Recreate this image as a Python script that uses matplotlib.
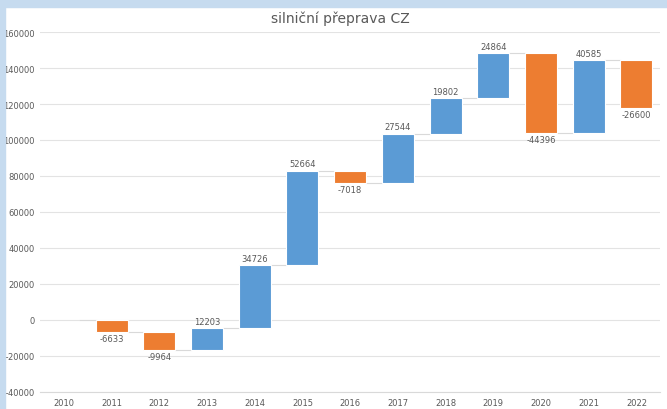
import matplotlib.pyplot as plt
import numpy as np
from matplotlib.patches import Rectangle

years = ['2010', '2011', '2012', '2013', '2014', '2015', '2016',
         '2017', '2018', '2019', '2020', '2021', '2022']
changes = [0, -6633, -9964, 12203, 34726, 52664, -7018,
           27544, 19802, 24864, -44396, 40585, -26600]

BLUE = '#5b9bd5'
ORANGE = '#ed7d31'
GREY = '#595959'

ends = np.cumsum(changes)
starts = ends - np.array(changes)

fig = plt.figure(figsize=(6.67, 4.10), dpi=100)
fig.patch.set_facecolor('white')
# light blue frame like the screenshot
fig.patches.append(Rectangle((0, 0.98), 1, 0.02, transform=fig.transFigure,
                             color='#c6dbef', zorder=0))
fig.patches.append(Rectangle((0, 0), 0.008, 1, transform=fig.transFigure,
                             color='#c6dbef', zorder=0))

ax = fig.add_axes([0.06, 0.0415, 0.93, 0.878])
x = np.arange(len(years))
w = 0.67

for i, c in enumerate(changes):
    if c == 0:
        continue
    col = BLUE if c > 0 else ORANGE
    ax.bar(x[i], c, bottom=starts[i], width=w, color=col,
           edgecolor='white', linewidth=0.8, zorder=3)
    if c > 0:
        ax.text(x[i], ends[i] + 1200, str(c), ha='center', va='bottom',
                fontsize=6, color=GREY)
    else:
        ax.text(x[i], ends[i] - 1200, str(c), ha='center', va='top',
                fontsize=6, color=GREY)

# connectors
for i in range(len(years) - 1):
    ax.plot([x[i] + w / 2, x[i + 1] - w / 2], [ends[i], ends[i]],
            color='#d9d9d9', linewidth=0.8, zorder=2)

ax.set_xlim(-0.5, len(years) - 0.5)
ax.set_ylim(-40000, 160000)
ax.set_yticks(np.arange(-40000, 160001, 20000))
ax.set_xticks(x)
ax.set_xticklabels(years)
ax.tick_params(axis='both', length=0, labelsize=6, colors=GREY, pad=4)
ax.grid(axis='y', color='#e3e3e3', linewidth=0.8, zorder=0)
for s in ['top', 'right', 'left']:
    ax.spines[s].set_visible(False)
ax.spines['bottom'].set_color('#d9d9d9')

fig.text(0.51, 0.955, 'silniční přeprava CZ', ha='center', va='center',
         fontsize=10, color=GREY)

fig.savefig('out.png', dpi=100)
